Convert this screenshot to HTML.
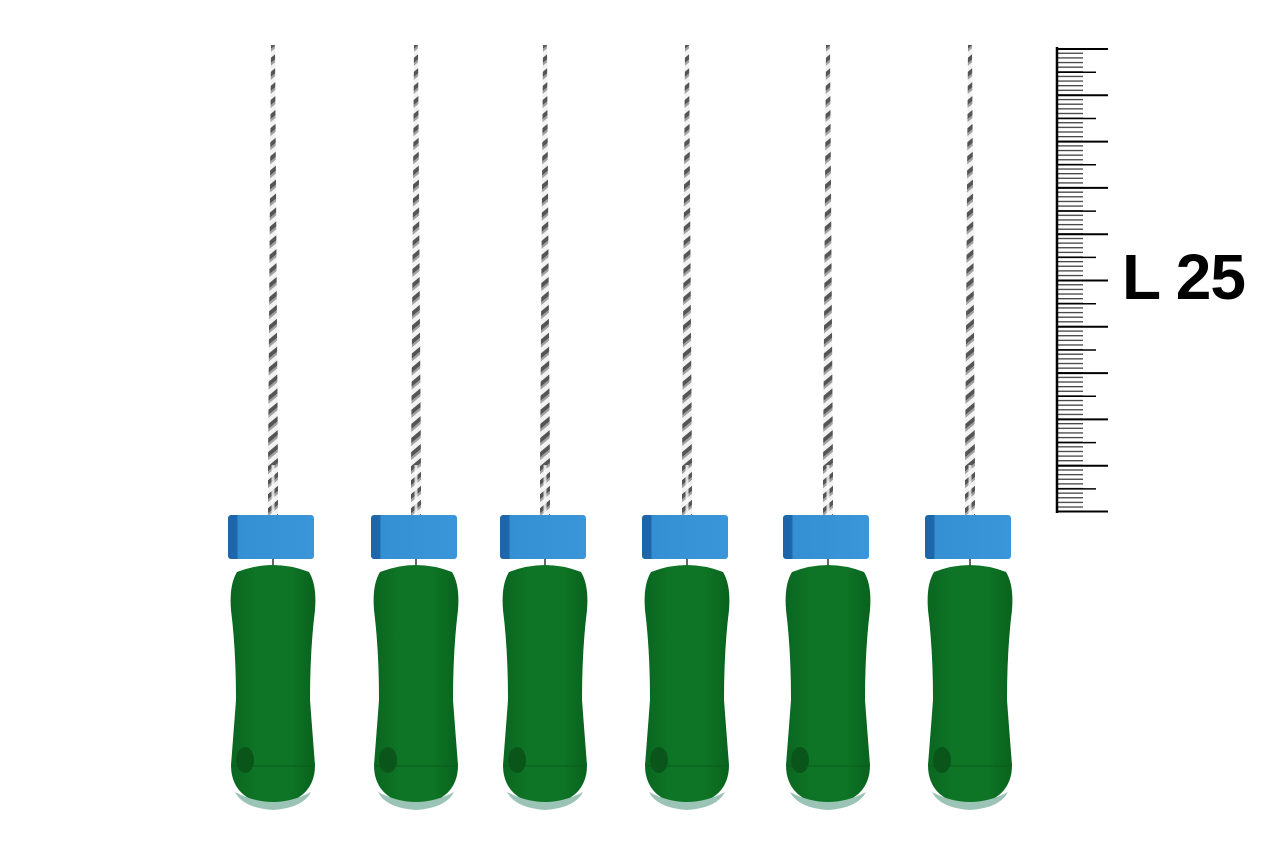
<!DOCTYPE html>
<html><head><meta charset="utf-8"><style>
html,body{margin:0;padding:0;background:#fff;}
svg{display:block}
</style></head><body>
<svg width="1280" height="853" viewBox="0 0 1280 853" xmlns="http://www.w3.org/2000/svg">
<defs>
  <pattern id="tw" width="30" height="14" patternUnits="userSpaceOnUse" patternTransform="skewY(-40)">
    <rect width="30" height="14" fill="#f2f2f2"/>
    <rect y="0" width="30" height="5" fill="#555"/>
    <rect y="5" width="30" height="3" fill="#a0a0a0"/>
  </pattern>
  <linearGradient id="stop" x1="0" x2="1">
    <stop offset="0" stop-color="#1d66aa"/><stop offset="0.1" stop-color="#1d66aa"/>
    <stop offset="0.12" stop-color="#3490d2"/><stop offset="1" stop-color="#3a96d8"/>
  </linearGradient>
  <linearGradient id="hand" x1="0" x2="1">
    <stop offset="0" stop-color="#0a6620"/><stop offset="0.3" stop-color="#0e7526"/>
    <stop offset="0.7" stop-color="#0e7526"/><stop offset="1" stop-color="#09621d"/>
  </linearGradient>
  <pattern id="minor" width="80" height="4.63" patternUnits="userSpaceOnUse" x="1057" y="48">
    <rect x="0" y="0" width="26" height="1.3" fill="#444"/>
  </pattern>
  <g id="inst">
    <polygon points="-2,45 2,45 5,470 5,515 -5,515 -5,470" fill="url(#tw)"/>
    <rect x="-1.5" y="465" width="3" height="50" fill="#fafafa" opacity="0.8"/>
    <line x1="0" y1="555" x2="0" y2="566" stroke="#333" stroke-width="1.5"/>
    <rect x="-45" y="515" width="86" height="44" rx="3" fill="url(#stop)"/>
    <path d="M-36,572 Q0,558 36,572 Q44,585 42,610 Q37,650 37,700 Q40,740 42,765 Q42,800 0,806 Q-42,800 -42,765 Q-40,740 -37,700 Q-37,650 -42,610 Q-44,585 -36,572 Z" fill="url(#hand)"/>
    <path d="M-38,792 Q0,812 38,792 Q30,808 0,810 Q-30,808 -38,792 Z" fill="#9cc4b6"/>
    <line x1="-40" y1="766" x2="40" y2="766" stroke="#0a5a1a" stroke-width="1.5" opacity="0.6"/>
    <ellipse cx="-28" cy="760" rx="9" ry="13" fill="#0a561a"/>
  </g>
</defs>
<use href="#inst" x="273"/>
<use href="#inst" x="416"/>
<use href="#inst" x="545"/>
<use href="#inst" x="687"/>
<use href="#inst" x="828"/>
<use href="#inst" x="970"/>

<rect x="1057" y="48" width="26" height="463" fill="url(#minor)"/>
<line x1="1057" y1="47" x2="1057" y2="513" stroke="#000" stroke-width="2.5"/>
<g stroke="#000" stroke-width="2">
  <line x1="1057" y1="49" x2="1108" y2="49"/>
  <line x1="1057" y1="95.3" x2="1108" y2="95.3"/>
  <line x1="1057" y1="141.6" x2="1108" y2="141.6"/>
  <line x1="1057" y1="187.9" x2="1108" y2="187.9"/>
  <line x1="1057" y1="234.2" x2="1108" y2="234.2"/>
  <line x1="1057" y1="280.5" x2="1108" y2="280.5"/>
  <line x1="1057" y1="326.8" x2="1108" y2="326.8"/>
  <line x1="1057" y1="373.1" x2="1108" y2="373.1"/>
  <line x1="1057" y1="419.4" x2="1108" y2="419.4"/>
  <line x1="1057" y1="465.7" x2="1108" y2="465.7"/>
  <line x1="1057" y1="511.5" x2="1108" y2="511.5"/>
</g>
<g stroke="#000" stroke-width="1.5">
  <line x1="1057" y1="72.2" x2="1096" y2="72.2"/>
  <line x1="1057" y1="118.5" x2="1096" y2="118.5"/>
  <line x1="1057" y1="164.8" x2="1096" y2="164.8"/>
  <line x1="1057" y1="211.1" x2="1096" y2="211.1"/>
  <line x1="1057" y1="257.4" x2="1096" y2="257.4"/>
  <line x1="1057" y1="303.7" x2="1096" y2="303.7"/>
  <line x1="1057" y1="350" x2="1096" y2="350"/>
  <line x1="1057" y1="396.3" x2="1096" y2="396.3"/>
  <line x1="1057" y1="442.6" x2="1096" y2="442.6"/>
  <line x1="1057" y1="488.9" x2="1096" y2="488.9"/>
</g>
<rect x="1110" y="245" width="145" height="62" fill="#fff"/>
<text x="1122" y="299" font-family="Liberation Sans, sans-serif" font-weight="bold" font-size="64" fill="#000" letter-spacing="-1">L 25</text>
</svg>
</body></html>
